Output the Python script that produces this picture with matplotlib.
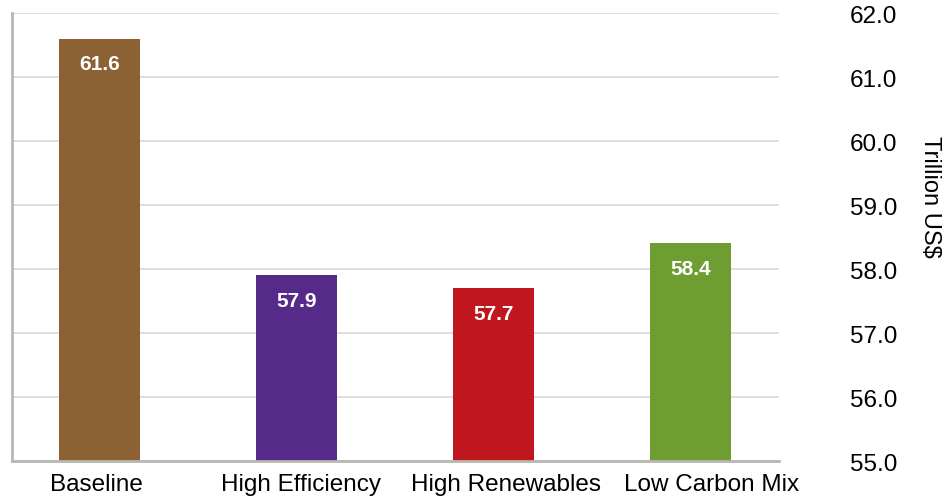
import matplotlib
matplotlib.use("Agg")
import matplotlib.pyplot as plt
import matplotlib.transforms as mtransforms

categories = ["Baseline", "High Efficiency", "High Renewables", "Low Carbon Mix"]
values = [61.6, 57.9, 57.7, 58.4]
colors = ["#8C6234", "#552A88", "#C0161D", "#6E9E32"]
yticks = [55.0, 56.0, 57.0, 58.0, 59.0, 60.0, 61.0, 62.0]

plt.rcParams['font.family'] = ['Liberation Sans', 'DejaVu Sans']

fig = plt.figure(figsize=(9.51, 5.02), dpi=100)
ax = fig.add_axes([12/951, 40/502, (779-12)/951, (462-14)/502])

x = list(range(len(categories)))
bars = ax.bar(x, [v - 55.0 for v in values], bottom=55.0, width=0.41, color=colors, zorder=3)
for xi, v in zip(x, values):
    ax.text(xi, v - 0.39, f"{v:.1f}", ha="center", va="center", color="white",
            fontsize=15, fontweight="bold", zorder=4)

ax.set_xlim(-0.444, 3.449)
ax.set_ylim(55, 62)
ax.set_yticks(yticks)
ax.set_yticklabels([f"{t:.1f}" for t in yticks])
ax.yaxis.tick_right()
ax.tick_params(axis="y", length=0, pad=51, labelsize=17.5)
ax.set_xticks([])

# category labels, slightly spread relative to bars as in the reference
for xi, cat in zip(x, categories):
    off = mtransforms.ScaledTranslation((-3 + 7.9 * xi) / 100, -12 / 100, fig.dpi_scale_trans)
    tr = mtransforms.blended_transform_factory(ax.transData, ax.transAxes) + off
    ax.text(xi, 0, cat, transform=tr, ha="center", va="top", fontsize=17.5, clip_on=False)

ax.grid(axis="y", color="#dcdcd4", linewidth=1.3, zorder=0)
for s in ["top", "right"]:
    ax.spines[s].set_visible(False)
for s in ["left", "bottom"]:
    ax.spines[s].set_color("#b8b8b0")
    ax.spines[s].set_linewidth(2)
ax.spines["bottom"].set_zorder(5)

fig.text(930/951, 1 - 197/502, "Trillion US$", rotation=270, ha="center", va="center", fontsize=17)

fig.savefig("out.png", dpi=100)
